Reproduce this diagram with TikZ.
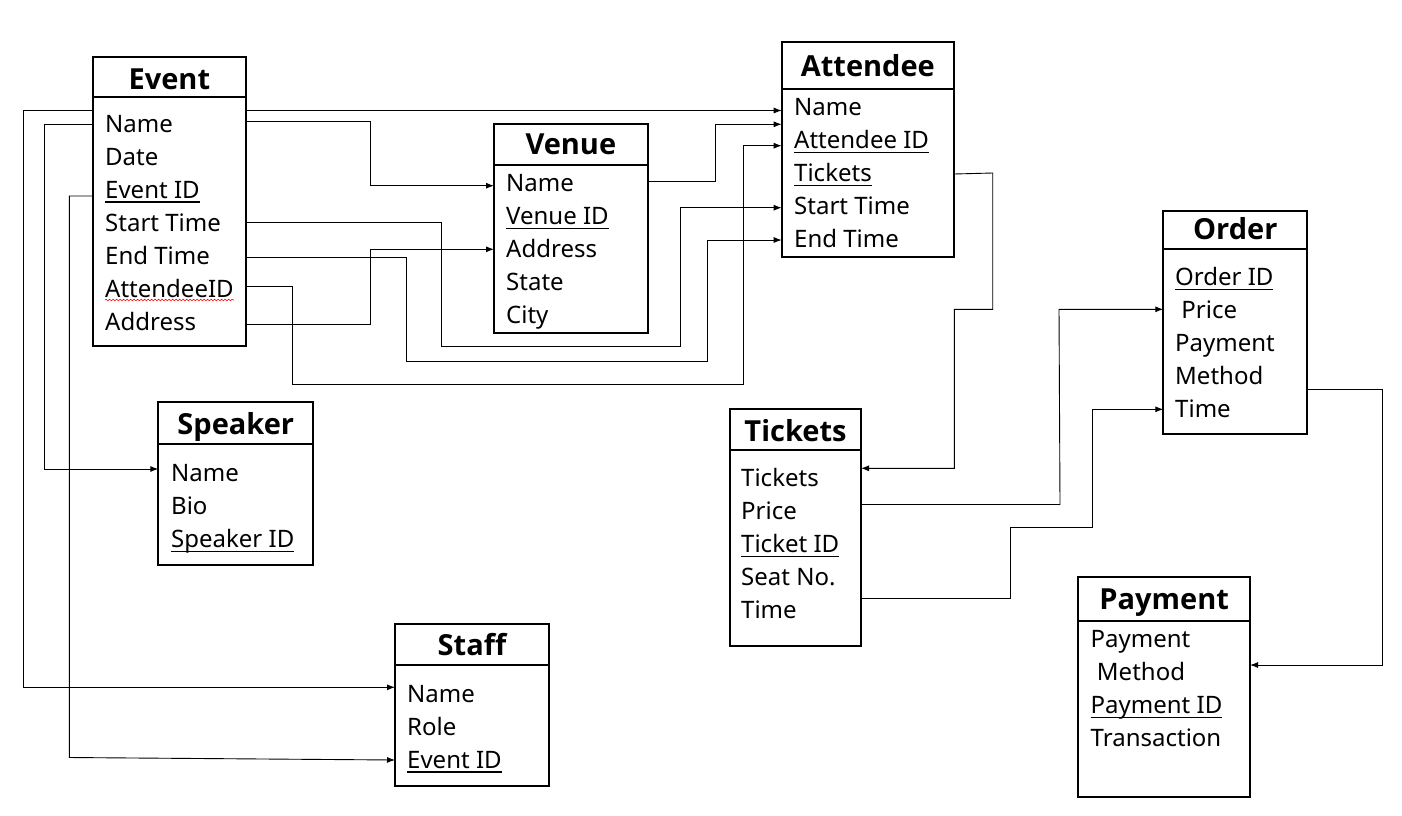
\documentclass[tikz,border=0pt]{standalone}
\usepackage{fontspec}
\setmainfont{Noto Sans}
\newfontfamily\titlefont{Open Sans}
\usetikzlibrary{arrows.meta,decorations.pathmorphing}
\newcommand\ulx[1]{\setbox0\hbox{#1}\rlap{\rule[-4.6pt]{\wd0}{1.4pt}}\box0}
\tikzset{
  tbox/.style={draw, line width=1.7pt, inner sep=0pt, outer sep=0pt},
  ttl/.style={anchor=base, inner sep=0pt, font=\titlefont\bfseries\fontsize{29}{35}\selectfont},
  rowtxt/.style={anchor=base west, inner sep=0pt, font=\fontsize{24}{33}\selectfont},
  conn/.style={line width=0.9pt},
  arr/.style={line width=0.9pt, -{Latex[length=8pt,width=6pt]}}
}
\begin{document}
\begin{tikzpicture}[x=1pt,y=-1pt]
\useasboundingbox (0,0) rectangle (1402,815);

% ---------------- Event
\node[tbox, minimum width=153.3pt, minimum height=39.4pt] (eventT) at (169.35,77) {};
\node[tbox, minimum width=153.3pt, minimum height=249pt] (event) at (169.35,221.2) {};
\node[ttl] (eventTitle) at (169.35,89.3) {Event};
\node[rowtxt] (e1) at (105,132) {Name};
\node[rowtxt] (e2) at (105,165) {Date};
\node[rowtxt] (e3) at (105,198) {\ulx{Event ID}};
\node[rowtxt] (e4) at (105,231) {Start Time};
\node[rowtxt] (e5) at (105,264) {End Time};
\node[rowtxt] (e6) at (105,297) {AttendeeID};
\node[rowtxt] (e7) at (105,330) {Address};
\draw[red, line width=0.6pt, decorate, decoration={snake, amplitude=0.8pt, segment length=3.5pt}]
  (e6.base west) ++(0,3) coordinate (sq1) -- (sq1 -| e6.east);

% ---------------- Venue
\node[tbox, minimum width=153.7pt, minimum height=40.7pt] (venueT) at (570.85,144.65) {};
\node[tbox, minimum width=153.7pt, minimum height=167.7pt] (venue) at (570.85,248.85) {};
\node[ttl] (venueTitle) at (570.85,154) {Venue};
\node[rowtxt] (v1) at (506,191.8) {Name};
\node[rowtxt] (v2) at (506,224.8) {\ulx{Venue ID}};
\node[rowtxt] (v3) at (506,257.8) {Address};
\node[rowtxt] (v4) at (506,290.8) {State};
\node[rowtxt] (v5) at (506,323.8) {City};

% ---------------- Attendee
\node[tbox, minimum width=172.3pt, minimum height=47.3pt] (attT) at (867.85,65.65) {};
\node[tbox, minimum width=172.3pt, minimum height=167.7pt] (att) at (867.85,173.15) {};
\node[ttl] (attTitle) at (867.85,76) {Attendee};
\node[rowtxt] (a1) at (794,115.5) {Name};
\node[rowtxt] (a2) at (794,148.5) {\ulx{Attendee ID}};
\node[rowtxt] (a3) at (794,181.5) {\ulx{Tickets}};
\node[rowtxt] (a4) at (794,214.5) {Start Time};
\node[rowtxt] (a5) at (794,247.5) {End Time};

% ---------------- Order
\node[tbox, minimum width=144pt, minimum height=38.3pt] (ordT) at (1235.3,229.85) {};
\node[tbox, minimum width=144pt, minimum height=185pt] (ord) at (1235.3,341.5) {};
\node[ttl] (ordTitle) at (1235.3,239.5) {Order};
\node[rowtxt] (o1) at (1175,285.5) {\ulx{Order ID}};
\node[rowtxt] (o2) at (1175,318.5) {\ Price};
\node[rowtxt] (o3) at (1175,351.5) {Payment};
\node[rowtxt] (o4) at (1175,384.5) {Method};
\node[rowtxt] (o5) at (1175,417.5) {Time};

% ---------------- Tickets
\node[tbox, minimum width=131pt, minimum height=41pt] (tkT) at (795.5,429.5) {};
\node[tbox, minimum width=131pt, minimum height=196pt] (tk) at (795.5,548) {};
\node[ttl] (tkTitle) at (795.5,441) {Tickets};
\node[rowtxt] (t1) at (741,486.5) {Tickets};
\node[rowtxt] (t2) at (741,519.5) {Price};
\node[rowtxt] (t3) at (741,552.5) {\ulx{Ticket ID}};
\node[rowtxt] (t4) at (741,585.5) {Seat No.};
\node[rowtxt] (t5) at (741,618.5) {Time};

% ---------------- Payment
\node[tbox, minimum width=171.7pt, minimum height=44pt] (payT) at (1164.15,598.7) {};
\node[tbox, minimum width=171.7pt, minimum height=176pt] (pay) at (1164.15,708.7) {};
\node[ttl] (payTitle) at (1164.15,609) {Payment};
\node[rowtxt] (p1) at (1090.5,647.5) {Payment};
\node[rowtxt] (p2) at (1090.5,680.5) {\ Method};
\node[rowtxt] (p3) at (1090.5,713.5) {\ulx{Payment ID}};
\node[rowtxt] (p4) at (1090.5,746.5) {Transaction};

% ---------------- Speaker
\node[tbox, minimum width=155pt, minimum height=41.7pt] (spkT) at (235.8,423.15) {};
\node[tbox, minimum width=155pt, minimum height=121pt] (spk) at (235.8,504.5) {};
\node[ttl] (spkTitle) at (235.8,434.5) {Speaker};
\node[rowtxt] (s1) at (171,481.5) {Name};
\node[rowtxt] (s2) at (171,514.5) {Bio};
\node[rowtxt] (s3) at (171,547.5) {\ulx{Speaker ID}};

% ---------------- Staff
\node[tbox, minimum width=154pt, minimum height=41pt] (stfT) at (472,644.5) {};
\node[tbox, minimum width=154pt, minimum height=120.7pt] (stf) at (472,725.35) {};
\node[ttl] (stfTitle) at (472,655.3) {Staff};
\node[rowtxt] (f1) at (407,702) {Name};
\node[rowtxt] (f2) at (407,735) {Role};
\node[rowtxt] (f3) at (407,768) {\ulx{Event ID}};

% ---------------- Connectors
% Event -> Attendee Name
\draw[arr] (event.east |- 0,110.5) -- (att.west |- 0,110.5);
% Event -> Staff Name
\draw[arr] (event.west |- 0,110.5) -- (23,110.5) -- (23,687.3) -- (stf.west |- 0,687.3);
% Event Name -> Speaker Name
\draw[arr] (event.west |- 0,124.7) -- (44.5,124.7) -- (44.5,469) -- (spk.west |- 0,469);
% Event ID -> Staff Event ID
\draw[arr] (event.west |- 0,196) -- (69.3,196) -- (69.3,757.5) -- (stf.west |- 0,760);
% Event Name -> Venue Name
\draw[arr] (event.east |- 0,121.3) -- (370,121.3) -- (370,185.7) -- (venue.west |- 0,185.7);
% Event Start Time -> Attendee Start Time
\draw[arr] (event.east |- 0,222.3) -- (441.7,222.3) -- (441.7,346) -- (680.3,346) -- (680.3,207.7) -- (att.west |- 0,207.7);
% Event End Time -> Attendee End Time
\draw[arr] (event.east |- 0,257.3) -- (406.3,257.3) -- (406.3,361.7) -- (707.3,361.7) -- (707.3,240) -- (att.west |- 0,240);
% Event AttendeeID -> Attendee ID
\draw[arr] (event.east |- 0,286.7) -- (292.3,286.7) -- (292.3,384) -- (743.7,384) -- (743.7,145.7) -- (att.west |- 0,145.7);
% Event Address -> Venue Address
\draw[arr] (event.east |- 0,324) -- (370,324) -- (370,249.3) -- (venue.west |- 0,249.3);
% Venue Name -> Attendee
\draw[arr] (venue.east |- 0,181.3) -- (715.7,181.3) -- (715.7,124.3) -- (att.west |- 0,124.3);
% Attendee Tickets -> Tickets
\draw[arr] (att.east |- 0,174) -- (992.7,173) -- (992.7,309.3) -- (954.3,309.3) -- (954.3,468.3) -- (tk.east |- 0,468.3);
% Tickets Price -> Order Price
\draw[arr] (tk.east |- 0,504.5) -- (1060,504.5) -- (1059,309.3) -- (ord.west |- 0,309.3);
% Tickets Seat No. -> Order Time
\draw[arr] (tk.east |- 0,598.3) -- (1010.7,598.3) -- (1010.7,527) -- (1092.7,527) -- (1092.7,409.3) -- (ord.west |- 0,409.3);
% Order -> Payment
\draw[arr] (ord.east |- 0,389.3) -- (1382.5,389.3) -- (1382.5,665) -- (pay.east |- 0,665);
\end{tikzpicture}
\end{document}
